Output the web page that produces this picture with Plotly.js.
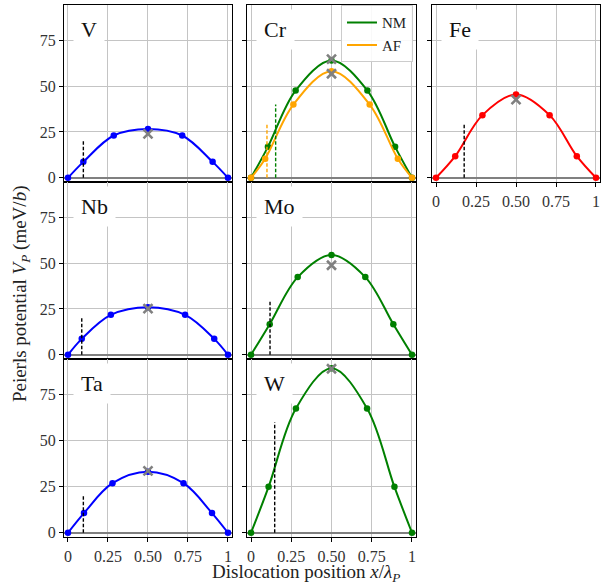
<!DOCTYPE html>
<html>
<head>
<meta charset="utf-8">
<script src="https://cdn.plot.ly/plotly-3.0.1.min.js"></script>
<style>
  html, body { margin: 0; padding: 0; background: #fff; }
  #chart { width: 606px; height: 587px; }
</style>
</head>
<body>
<div id="chart"></div>
<script>
// Peierls potential along the dislocation path, one panel per bcc metal.

// --- data ---
const elements = ["V", "Cr", "Fe", "Nb", "Mo", "Ta", "W"];

const xV = [0, 0.096, 0.286, 0.5, 0.714, 0.904, 1];
const yV = [0, 8.7, 23.1, 26.7, 23.1, 8.7, 0];

const xCrNM = [0, 0.105, 0.277, 0.5, 0.723, 0.895, 1];
const yCrNM = [0, 16.9, 47.6, 64.0, 47.6, 16.9, 0];
const xCrAF = [0, 0.088, 0.263, 0.5, 0.737, 0.912, 1];
const yCrAF = [0, 10.4, 40.0, 58.2, 40.0, 10.4, 0];

const xFe = [0, 0.12, 0.29, 0.5, 0.71, 0.88, 1];
const yFe = [0, 11.8, 34.2, 45.5, 34.2, 11.8, 0];

const xNb = [0, 0.086, 0.268, 0.5, 0.732, 0.914, 1];
const yNb = [0, 8.7, 21.8, 26.0, 21.8, 8.7, 0];

const xMo = [0, 0.116, 0.29, 0.5, 0.71, 0.884, 1];
const yMo = [0, 16.7, 42.4, 54.5, 42.4, 16.7, 0];

const xTa = [0, 0.1, 0.278, 0.5, 0.722, 0.9, 1];
const yTa = [0, 10.7, 26.9, 33.1, 26.9, 10.7, 0];

const xW = [0, 0.109, 0.279, 0.5, 0.721, 0.891, 1];
const yW = [0, 24.9, 67.5, 89.3, 67.5, 24.9, 0];

// grey crosses at x = 0.5 (reference values)
const crossV = [24.0];
const crossCr = [64.8, 56.8];
const crossFe = [42.7];
const crossNb = [25.2];
const crossMo = [48.9];
const crossTa = [33.6];
const crossW = [89.0];

// dashed markers: position and height
const dashV = [0.096, 20];
const dashCrNM = [0.153, 40];
const dashCrAF = [0.099, 30];
const dashFe = [0.176, 30];
const dashNb = [0.086, 20];
const dashMo = [0.118, 30];
const dashTa = [0.096, 20];
const dashW = [0.147, 60];

const xTickVals = [0, 0.25, 0.5, 0.75, 1];
const xTickText = ["0", "0.25", "0.50", "0.75", "1"];
const yTickVals = [0, 25, 50, 75];

// --- layout helpers ---
const FONT = "Liberation Serif, DejaVu Serif, serif";
const BLUE = "#0000ff", GREEN = "#008000", ORANGE = "#ffa500", RED = "#ff0000";
const GREY = "#808080";

const colDom = [[0.1056, 0.3828], [0.4076, 0.6865], [0.7129, 0.9901]];
const rowDom = [[0.6899, 0.9915], [0.3884, 0.6899], [0.0852, 0.3884]];

// row, col per element
const cells = { V: [0, 0], Cr: [0, 1], Fe: [0, 2], Nb: [1, 0], Mo: [1, 1], Ta: [2, 0], W: [2, 1] };
const xLabelled = ["Fe", "Ta", "W"];

const traces = [];
const layout = {
  width: 606, height: 587,
  margin: { l: 0, r: 0, t: 0, b: 0 },
  paper_bgcolor: "#fff", plot_bgcolor: "#fff",
  font: { family: FONT, size: 15, color: "#222" },
  showlegend: true,
  legend: {
    x: 0.6815, y: 0.991, xanchor: "right", yanchor: "top",
    bgcolor: "rgba(255,255,255,0.9)", bordercolor: "#cccccc", borderwidth: 1,
    font: { family: FONT, size: 15, color: "#222" },
    itemwidth: 30, tracegroupgap: 2
  },
  annotations: [],
  shapes: []
};

function axisSuffix(i) { return i === 0 ? "" : String(i + 1); }

function curve(ax, xs, ys, color, name) {
  traces.push({
    x: xs, y: ys, xaxis: "x" + ax, yaxis: "y" + ax,
    mode: "lines", line: { color, width: 2, shape: "spline", smoothing: 1 },
    name: name || "", showlegend: !!name, hoverinfo: "skip"
  });
  traces.push({
    x: xs, y: ys, xaxis: "x" + ax, yaxis: "y" + ax,
    mode: "markers", marker: { color, size: 6.5 },
    showlegend: false, hoverinfo: "skip"
  });
}

function dashed(ax, d, color) {
  traces.push({
    x: [d[0], d[0]], y: [0, d[1]], xaxis: "x" + ax, yaxis: "y" + ax,
    mode: "lines", line: { color, width: 1.4, dash: "3.5px,2px" },
    showlegend: false, hoverinfo: "skip"
  });
}

function crosses(ax, ys) {
  traces.push({
    x: ys.map(() => 0.5), y: ys, xaxis: "x" + ax, yaxis: "y" + ax,
    mode: "markers",
    marker: { symbol: "x-thin", size: 9, color: GREY, line: { width: 2.6, color: GREY } },
    showlegend: false, hoverinfo: "skip"
  });
}

elements.forEach((el, i) => {
  const s = axisSuffix(i);
  const [r, c] = cells[el];
  const showX = xLabelled.includes(el);
  layout["xaxis" + s] = {
    domain: colDom[c], anchor: "y" + s, range: [-0.025, 1.025],
    tickvals: xTickVals, ticktext: xTickText, showticklabels: showX,
    ticks: "outside", ticklen: 4, tickcolor: "#000", tickwidth: 1,
    ticklabelstandoff: 1,
    showgrid: true, gridcolor: "#c4c4c4", gridwidth: 1, zeroline: false,
    showline: true, mirror: true, linecolor: "#000", linewidth: 1,
    tickfont: { family: FONT, size: 16, color: "#333" }, automargin: false
  };
  layout["yaxis" + s] = {
    domain: rowDom[r], anchor: "x" + s, range: [-2.3, 94.3],
    tickvals: yTickVals, showticklabels: c === 0,
    ticks: "outside", ticklen: 4, tickcolor: "#000", tickwidth: 1,
    showgrid: true, gridcolor: "#c4c4c4", gridwidth: 1,
    zeroline: true, zerolinecolor: GREY, zerolinewidth: 2.2,
    showline: true, mirror: true, linecolor: "#000", linewidth: 1,
    tickfont: { family: FONT, size: 16, color: "#333" }, automargin: false
  };
  layout.annotations.push({
    text: el, xref: "x" + s + " domain", yref: "y" + s + " domain",
    x: 0.055, y: 0.86, xanchor: "left", yanchor: "middle", showarrow: false,
    bgcolor: "#fff", borderpad: 7,
    font: { family: FONT, size: 22, color: "#111" }
  });
});

// panels
curve("", xV, yV, BLUE); dashed("", dashV, "#000"); crosses("", crossV);
curve("2", xCrNM, yCrNM, GREEN, "NM"); curve("2", xCrAF, yCrAF, ORANGE, "AF");
dashed("2", dashCrNM, GREEN); dashed("2", dashCrAF, ORANGE); crosses("2", crossCr);
curve("3", xFe, yFe, RED); dashed("3", dashFe, "#000"); crosses("3", crossFe);
curve("4", xNb, yNb, BLUE); dashed("4", dashNb, "#000"); crosses("4", crossNb);
curve("5", xMo, yMo, GREEN); dashed("5", dashMo, "#000"); crosses("5", crossMo);
curve("6", xTa, yTa, BLUE); dashed("6", dashTa, "#000"); crosses("6", crossTa);
curve("7", xW, yW, GREEN); dashed("7", dashW, "#000"); crosses("7", crossW);

// shared axis titles
layout.annotations.push({
  text: "Dislocation position <i>x</i>/<i>λ</i><sub><i>P</i></sub>",
  xref: "paper", yref: "paper", x: 0.505, y: 0.024, xanchor: "center", yanchor: "middle",
  borderpad: 0,
  showarrow: false, font: { family: FONT, size: 19, color: "#222" }
});
layout.annotations.push({
  text: "Peierls potential <i>V</i><sub><i>P</i></sub> (meV/<i>b</i>)",
  xref: "paper", yref: "paper", x: 0.034, y: 0.5, xanchor: "center", yanchor: "middle",
  textangle: -90, showarrow: false, font: { family: FONT, size: 19, color: "#222" }
});

Plotly.newPlot("chart", traces, layout, { displayModeBar: false, staticPlot: true });
</script>
</body>
</html>
